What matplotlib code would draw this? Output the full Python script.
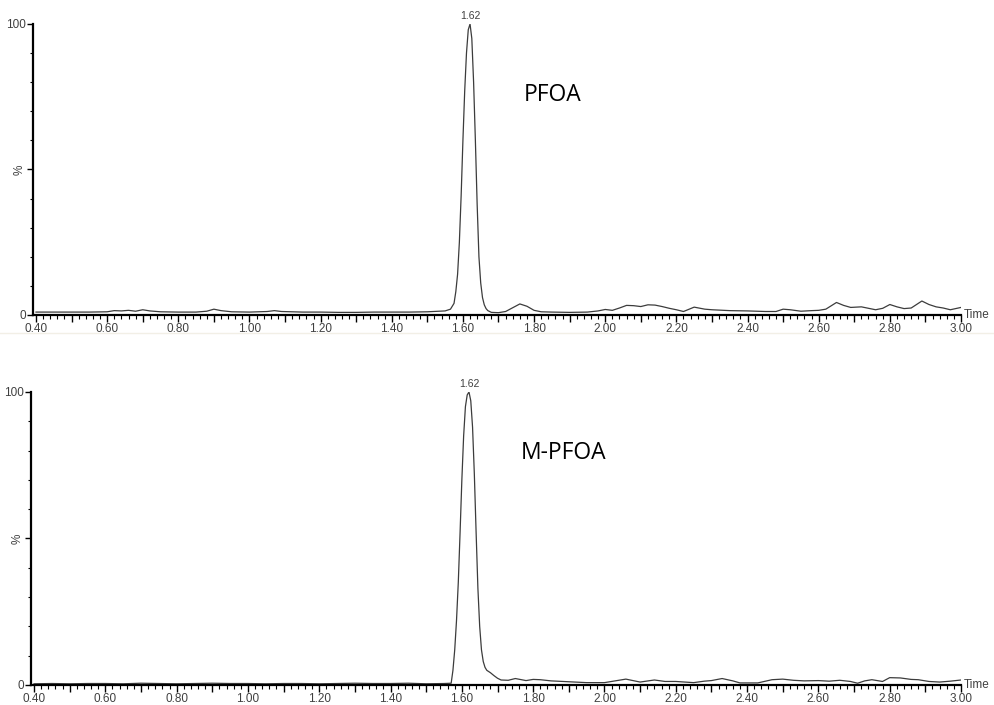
import numpy as np
import matplotlib
matplotlib.use("Agg")
import matplotlib.pyplot as plt
from matplotlib.ticker import MultipleLocator, FuncFormatter
from matplotlib.lines import Line2D

# PFOA trace (time in min, relative intensity %)
pfoa_t = [0.40, 0.45, 0.50, 0.55, 0.60, 0.62, 0.64, 0.66, 0.68, 0.70, 0.72, 0.75,
          0.80, 0.85, 0.88, 0.90, 0.92, 0.95, 1.00, 1.05, 1.07, 1.09, 1.15, 1.20,
          1.25, 1.30, 1.35, 1.40, 1.45, 1.50, 1.55, 1.565, 1.575, 1.58, 1.585,
          1.59, 1.595, 1.60, 1.605, 1.61, 1.615, 1.62, 1.625, 1.63, 1.635, 1.64,
          1.645, 1.65, 1.655, 1.66, 1.665, 1.67, 1.68, 1.70, 1.72, 1.74, 1.76,
          1.78, 1.80, 1.82, 1.85, 1.90, 1.95, 1.98, 2.00, 2.02, 2.04, 2.06,
          2.08, 2.10, 2.12, 2.14, 2.16, 2.18, 2.20, 2.22, 2.25, 2.28, 2.30,
          2.35, 2.40, 2.45, 2.48, 2.50, 2.52, 2.55, 2.58, 2.60, 2.62, 2.65,
          2.67, 2.69, 2.72, 2.74, 2.76, 2.78, 2.80, 2.82, 2.84, 2.86, 2.89,
          2.91, 2.93, 2.95, 2.97, 3.00]
pfoa_v = [1.0, 1.0, 1.0, 1.0, 1.1, 1.5, 1.4, 1.6, 1.3, 1.8, 1.4, 1.1,
          1.0, 1.0, 1.3, 2.0, 1.5, 1.1, 1.0, 1.2, 1.5, 1.2, 1.0, 1.0,
          0.9, 0.9, 1.0, 1.0, 1.0, 1.1, 1.4, 2.0, 4.0, 8.0, 14.0,
          25.0, 41.0, 60.0, 77.0, 90.0, 98.0, 100.0, 95.0, 80.0, 60.0, 38.0,
          20.0, 11.0, 6.0, 3.5, 2.2, 1.5, 0.9, 0.8, 1.2, 2.5, 3.8,
          3.0, 1.6, 1.1, 1.0, 0.9, 1.0, 1.4, 1.9, 1.6, 2.4, 3.3,
          3.2, 2.9, 3.5, 3.4, 2.9, 2.3, 1.8, 1.2, 2.7, 2.0, 1.8,
          1.5, 1.4, 1.2, 1.2, 2.0, 1.8, 1.3, 1.5, 1.6, 2.0, 4.3,
          3.3, 2.6, 2.8, 2.3, 1.8, 2.3, 3.6, 2.8, 2.2, 2.4, 4.8,
          3.6, 2.8, 2.4, 1.8, 2.6]

# M-PFOA trace
mpfoa_t = [0.40, 0.45, 0.50, 0.55, 0.60, 0.65, 0.70, 0.75, 0.80, 0.85, 0.90, 0.95,
           1.00, 1.05, 1.10, 1.15, 1.20, 1.25, 1.30, 1.35, 1.40, 1.45, 1.50,
           1.55, 1.57, 1.575, 1.58, 1.585, 1.59, 1.595, 1.60, 1.605, 1.61,
           1.615, 1.62, 1.625, 1.63, 1.635, 1.64, 1.645, 1.65, 1.655, 1.66,
           1.665, 1.67, 1.68, 1.69, 1.70, 1.71, 1.73, 1.75, 1.78, 1.80, 1.82,
           1.85, 1.90, 1.95, 2.00, 2.03, 2.06, 2.08, 2.10, 2.14, 2.17, 2.20,
           2.25, 2.28, 2.30, 2.33, 2.36, 2.38, 2.43, 2.47, 2.50, 2.53, 2.56,
           2.60, 2.63, 2.66, 2.69, 2.71, 2.73, 2.75, 2.78, 2.80, 2.83, 2.86,
           2.88, 2.91, 2.94, 2.97, 3.00]
mpfoa_v = [0.4, 0.5, 0.4, 0.5, 0.5, 0.4, 0.6, 0.5, 0.4, 0.5, 0.6, 0.5,
           0.5, 0.4, 0.5, 0.5, 0.4, 0.5, 0.6, 0.5, 0.5, 0.6, 0.4,
           0.5, 0.6, 5.0, 12.0, 22.0, 35.0, 52.0, 70.0, 85.0, 95.0,
           99.0, 100.0, 97.0, 88.0, 72.0, 52.0, 33.0, 20.0, 12.0, 8.0,
           6.0, 5.0, 4.2, 3.2, 2.3, 1.7, 1.6, 2.2, 1.5, 1.9, 1.8,
           1.4, 1.1, 0.8, 0.8, 1.4, 2.0, 1.5, 1.0, 1.7, 1.2, 1.2,
           0.8, 1.3, 1.5, 2.2, 1.4, 0.7, 0.7, 1.8, 2.0, 1.6, 1.4,
           1.5, 1.3, 1.6, 1.2, 0.6, 1.4, 1.8, 1.2, 2.5, 2.4, 1.9,
           1.8, 1.2, 1.0, 1.3, 1.7]

peak_rt = 1.62
panels = [
    dict(t=pfoa_t, v=pfoa_v, name="PFOA", rect=[0.0332, 0.5532, 0.9336, 0.4128],
         xy=(1.853, 75.6)),
    dict(t=mpfoa_t, v=mpfoa_v, name="M-PFOA", rect=[0.0312, 0.0284, 0.9356, 0.4156],
         xy=(1.884, 79.2)),
]

lab_col = "#404040"
fig = plt.figure(figsize=(9.94, 7.05), dpi=100)

for p in panels:
    ax = fig.add_axes(p["rect"])
    ax.plot(p["t"], p["v"], color="#3c3c3c", lw=0.9)
    ax.set_xlim(0.40 - 3 / 355.77, 3.0)
    ax.set_ylim(0, 100)
    for s in ["top", "right"]:
        ax.spines[s].set_visible(False)
    ax.spines["left"].set_linewidth(1.6)
    ax.spines["bottom"].set_linewidth(1.6)

    ax.xaxis.set_major_locator(MultipleLocator(0.1))
    ax.xaxis.set_minor_locator(MultipleLocator(0.02))
    ax.xaxis.set_major_formatter(FuncFormatter(
        lambda x, pos: f"{x:.2f}" if round(x * 10) % 2 == 0 else ""))
    ax.tick_params(axis="x", which="major", length=5, width=1, pad=1,
                   labelsize=8.5, labelcolor=lab_col)
    ax.tick_params(axis="x", which="minor", length=3, width=0.8)

    ax.set_yticks([0, 50, 100])
    ax.set_yticklabels(["0", "%", "100"])
    ax.yaxis.set_minor_locator(MultipleLocator(10))
    ax.tick_params(axis="y", which="major", length=4, width=1, pad=1,
                   labelsize=8.5, labelcolor=lab_col)
    ax.tick_params(axis="y", which="minor", length=2, width=0.8)
    for lbl in ax.get_yticklabels():
        if lbl.get_text() == "%":
            lbl.set_rotation(90)
            lbl.set_va("center")
    for lbl in ax.get_xticklabels() + ax.get_yticklabels():
        lbl.set_fontfamily("Liberation Sans")

    ax.text(1.003, 0.0, "Time", transform=ax.transAxes, ha="left", va="center",
            fontsize=8.5, color=lab_col, family="Liberation Sans")
    ax.annotate(f"{peak_rt:.2f}", xy=(peak_rt, 100), xytext=(0, 6),
                textcoords="offset points", ha="center", va="center",
                fontsize=7.5, color=lab_col, family="Liberation Sans",
                annotation_clip=False)
    ax.text(p["xy"][0], p["xy"][1], p["name"], ha="center", va="center",
            fontsize=16.5, family="Open Sans", color="black")

# faint separator between panels
fig.add_artist(Line2D([0.0, 1.0], [1 - 333 / 705, 1 - 333 / 705],
                      transform=fig.transFigure, color="#f2efe6", lw=1))

fig.savefig("out.png", dpi=100)
